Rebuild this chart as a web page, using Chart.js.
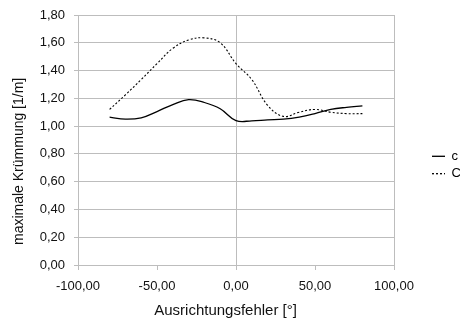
<!DOCTYPE html>
<html>
<head>
<meta charset="utf-8">
<script src="https://cdn.jsdelivr.net/npm/chart.js@4.4.1/dist/chart.umd.min.js"></script>
<style>
  html, body { margin: 0; padding: 0; background: #fff; }
  canvas { display: block; }
</style>
</head>
<body>
<canvas id="c" width="460" height="323"></canvas>
<script>
// ---- data ----
const xValues = [-80, -70, -60, -50, -40, -30, -20, -10, 0, 10, 20, 30, 40, 50, 60, 70, 80];
const seriesSolid = [1.065, 1.05, 1.06, 1.105, 1.155, 1.19, 1.17, 1.125, 1.04, 1.038, 1.045, 1.05, 1.065, 1.09, 1.12, 1.135, 1.145];
const seriesDashed = [1.12, 1.225, 1.335, 1.45, 1.56, 1.62, 1.635, 1.60, 1.45, 1.335, 1.15, 1.07, 1.10, 1.12, 1.10, 1.09, 1.09];
const seriesLabels = ["c", "C"];
const xTitle = "Ausrichtungsfehler [°]";
const yTitle = "maximale Krümmung [1/m]";
const xMajorGrid = [-100, 0, 100];

const fmt = v => Number(v).toFixed(2).replace('.', ',');
const toPts = ys => xValues.map((x, i) => ({ x: x, y: ys[i] }));
const FONT = "'Liberation Sans', Arial, sans-serif";
const GRID = '#bdbdbd';

// place the legend block at the right edge of the canvas (as in the reference)
const legendPlace = {
  id: 'legendPlace',
  beforeDraw(chart) {
    const l = chart.legend;
    if (!l) return;
    const w = l.width;
    l.left = 427.6;
    l.right = l.left + w;
  }
};

new Chart(document.getElementById('c'), {
  type: 'line',
  data: {
    datasets: [
      { label: seriesLabels[0], data: toPts(seriesSolid), borderColor: '#000', borderWidth: 1.3,
        pointRadius: 0, tension: 0.4, fill: false },
      { label: seriesLabels[1], data: toPts(seriesDashed), borderColor: '#000', borderWidth: 1.1,
        borderDash: [2, 2], pointRadius: 0, tension: 0.4, fill: false }
    ]
  },
  plugins: [legendPlace],
  options: {
    responsive: false,
    animation: false,
    layout: { padding: { top: 7, right: 0, bottom: 0, left: 0 } },
    plugins: {
      tooltip: { enabled: false },
      legend: {
        position: 'right',
        labels: {
          color: '#000',
          font: { family: FONT, size: 13 },
          boxWidth: 13,
          boxHeight: 0.001,
          padding: 4.4,
          generateLabels: chart => chart.data.datasets.map((ds, i) => ({
            text: ds.label,
            fillStyle: 'rgba(0,0,0,0)',
            strokeStyle: '#000',
            lineWidth: 1,
            lineDash: ds.borderDash || [],
            hidden: false,
            datasetIndex: i,
            fontColor: '#000'
          }))
        }
      }
    },
    scales: {
      x: {
        type: 'linear',
        min: -100, max: 100,
        ticks: { stepSize: 50, maxRotation: 0, autoSkip: false, padding: 9,
                 color: '#111', font: { family: FONT, size: 13 }, callback: v => fmt(v) },
        grid: {
          color: ctx => xMajorGrid.includes(ctx.tick.value) ? GRID : 'rgba(0,0,0,0)',
          tickColor: GRID, tickLength: 5, lineWidth: 1
        },
        border: { color: GRID, width: 1 },
        title: { display: true, text: xTitle + '     ', color: '#111',
                 font: { family: FONT, size: 15 }, padding: { top: 0, bottom: 3 } },
        afterFit: s => { s.height = 58; s.paddingRight = 66; }
      },
      y: {
        min: 0, max: 1.8,
        ticks: { stepSize: 0.2, padding: 9, color: '#111',
                 font: { family: FONT, size: 13 }, callback: v => fmt(v) },
        grid: { color: GRID, tickColor: GRID, tickLength: 4, lineWidth: 1 },
        border: { color: GRID, width: 1 },
        title: { display: true, text: yTitle + '           ', color: '#111',
                 font: { family: FONT, size: 14 }, padding: { top: 11, bottom: 0 } },
        afterFit: s => { s.width = 78; s.paddingTop = 15; }
      }
    }
  }
});
</script>
</body>
</html>
